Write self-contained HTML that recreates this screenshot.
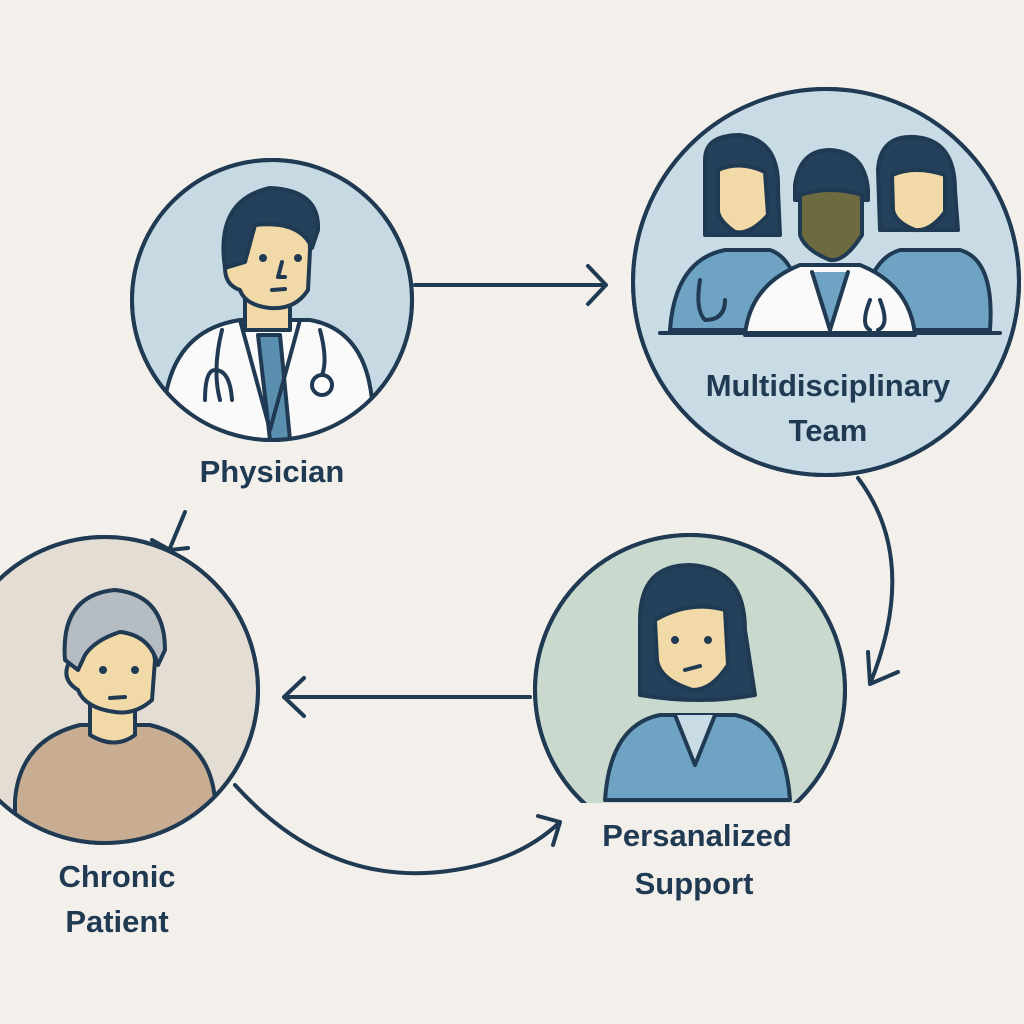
<!DOCTYPE html>
<html><head><meta charset="utf-8"><style>
html,body{margin:0;padding:0;background:#f3f0eb;}
svg{display:block}
text{font-family:"Liberation Sans","DejaVu Sans",sans-serif;font-weight:bold;fill:#1f3a52;font-size:31px;text-anchor:middle}
</style></head><body>
<svg width="1024" height="1024" viewBox="0 0 1024 1024" xmlns="http://www.w3.org/2000/svg">
<rect width="1024" height="1024" fill="#f3f0eb"/>
<defs>
<clipPath id="c1"><circle cx="272" cy="300" r="140"/></clipPath>
<clipPath id="c2"><circle cx="826" cy="282" r="193"/></clipPath>
<clipPath id="c3"><circle cx="105" cy="690" r="153"/></clipPath>
<clipPath id="c4"><circle cx="690" cy="690" r="155"/></clipPath>
</defs>
<g stroke="#1f3a52" stroke-width="4" stroke-linecap="round" stroke-linejoin="round">
<!-- Physician -->
<circle cx="272" cy="300" r="140" fill="#c7d9e3"/>
<g clip-path="url(#c1)">
<path d="M165 400 Q175 330 240 320 L310 320 Q365 330 372 400 L372 460 L165 460Z" fill="#fafafa"/>
<path d="M258 335 L280 335 L290 440 L270 440Z" fill="#5a8fb0"/>
<path d="M240 320 L270 430 L300 320" fill="none"/>
<path d="M222 330 Q212 370 220 400 M205 400 Q205 370 215 370 Q230 370 232 400" fill="none"/>
<path d="M320 330 Q328 360 322 375" fill="none"/><circle cx="322" cy="385" r="10" fill="#fff"/>
<rect x="245" y="280" width="45" height="50" fill="#f2d9a8"/>
<path d="M238 220 Q240 200 275 205 Q310 210 310 250 L308 290 Q295 310 270 308 Q245 305 240 290 Q225 285 225 268 Q228 255 238 258Z" fill="#f2d9a8"/>
<path d="M225 268 Q215 200 270 188 Q320 190 318 230 L312 248 Q300 220 255 225 L245 262Z" fill="#24405a"/>
<circle cx="263" cy="258" r="2" fill="#1f3a52"/><circle cx="298" cy="258" r="2" fill="#1f3a52"/>
<path d="M282 262 L278 277 L285 277 M272 290 L285 289" fill="none"/>
</g>
<circle cx="272" cy="300" r="140" fill="none"/>
<!-- Team -->
<circle cx="826" cy="282" r="193" fill="#c9dce6"/>
<g clip-path="url(#c2)">
<path d="M670 330 Q675 260 725 250 L770 250 Q800 260 805 330Z" fill="#6ea3c4"/>
<path d="M705 160 Q705 135 740 135 Q780 140 778 190 L780 235 L705 235Z" fill="#24405a"/>
<path d="M718 170 Q740 160 765 172 L768 215 Q750 235 735 232 Q718 220 718 210Z" fill="#f2d9a8"/>
<path d="M860 330 Q865 260 900 250 L960 250 Q995 260 990 330Z" fill="#6ea3c4"/>
<path d="M878 170 Q880 135 915 137 Q955 140 955 190 L958 230 L880 230Z" fill="#24405a"/>
<path d="M892 175 Q915 165 945 175 L945 212 Q930 232 915 230 Q895 222 893 210Z" fill="#f2d9a8"/>
<path d="M745 335 Q750 285 800 265 L860 265 Q910 285 915 335Z" fill="#fafafa"/>
<path d="M812 272 L830 330 L848 272" fill="#6ea3c4"/>
<path d="M795 185 Q800 150 830 150 Q865 152 868 190 L868 200 L795 200Z" fill="#24405a"/>
<path d="M800 195 Q830 185 862 195 L862 235 Q845 262 830 260 Q805 250 800 235Z" fill="#6e6a3f"/>
<path d="M700 280 Q695 310 705 320 Q725 320 725 300" fill="none"/>
<path d="M870 300 Q860 325 870 330 M880 300 Q890 325 878 330" fill="none"/>
<path d="M660 333 L1000 333" fill="none"/>
</g>
<circle cx="826" cy="282" r="193" fill="none"/>
<!-- Patient -->
<circle cx="105" cy="690" r="153" fill="#e3ddd4"/>
<g clip-path="url(#c3)">
<path d="M15 800 Q20 740 80 725 L150 725 Q210 740 215 800 L215 850 L15 850Z" fill="#c8ad92"/>
<path d="M90 700 L90 735 Q115 750 135 735 L135 700Z" fill="#f2d9a8"/>
<path d="M72 650 Q75 620 110 622 Q150 625 155 660 L152 700 Q135 715 115 712 Q85 708 78 690 Q62 680 68 665Z" fill="#f2d9a8"/>
<path d="M65 660 Q60 595 115 590 Q165 595 165 650 L158 665 Q150 635 120 632 Q95 640 85 655 L78 670Z" fill="#b5bcc2"/>
<circle cx="103" cy="670" r="2" fill="#1f3a52"/><circle cx="135" cy="670" r="2" fill="#1f3a52"/>
<path d="M110 698 L125 697" fill="none"/>
</g>
<circle cx="105" cy="690" r="153" fill="none"/>
<!-- Support -->
<circle cx="690" cy="690" r="155" fill="#c9d9cd"/>
<g clip-path="url(#c4)">
<path d="M605 800 Q610 725 660 715 L735 715 Q785 725 790 800Z" fill="#6ea3c4"/>
<path d="M675 715 L695 765 L715 715" fill="#c9dce6"/>
<path d="M640 620 Q640 565 690 565 Q745 568 745 630 L755 695 Q700 705 640 695Z" fill="#24405a"/>
<path d="M655 620 Q690 600 725 610 L728 665 Q712 690 693 690 Q660 680 657 660Z" fill="#f2d9a8"/>
<circle cx="675" cy="640" r="2" fill="#1f3a52"/><circle cx="708" cy="640" r="2" fill="#1f3a52"/>
<path d="M685 670 L700 666" fill="none"/>
</g>
<circle cx="690" cy="690" r="155" fill="none"/>
<rect x="575" y="803" width="240" height="60" fill="#f3f0eb" stroke="none"/>
<!-- arrows -->
<path d="M415 285 L606 285 M588 266 L606 285 L588 304" fill="none"/>
<path d="M858 478 Q920 560 870 684 M868 652 L870 684 L898 672" fill="none"/>
<path d="M530 697 L284 697 M304 678 L284 697 L304 716" fill="none"/>
<path d="M235 785 Q330 890 455 870 Q520 860 560 822 M538 816 L560 822 L553 845" fill="none"/>
<path d="M185 512 L170 548 M152 540 L170 550 L188 548" fill="none"/>
</g>
<text x="272" y="482">Physician</text>
<text x="828" y="396">Multidisciplinary</text>
<text x="828" y="441">Team</text>
<text x="117" y="887">Chronic</text>
<text x="117" y="932">Patient</text>
<text x="697" y="846">Persanalized</text>
<text x="694" y="894">Support</text>
</svg>
</body></html>
